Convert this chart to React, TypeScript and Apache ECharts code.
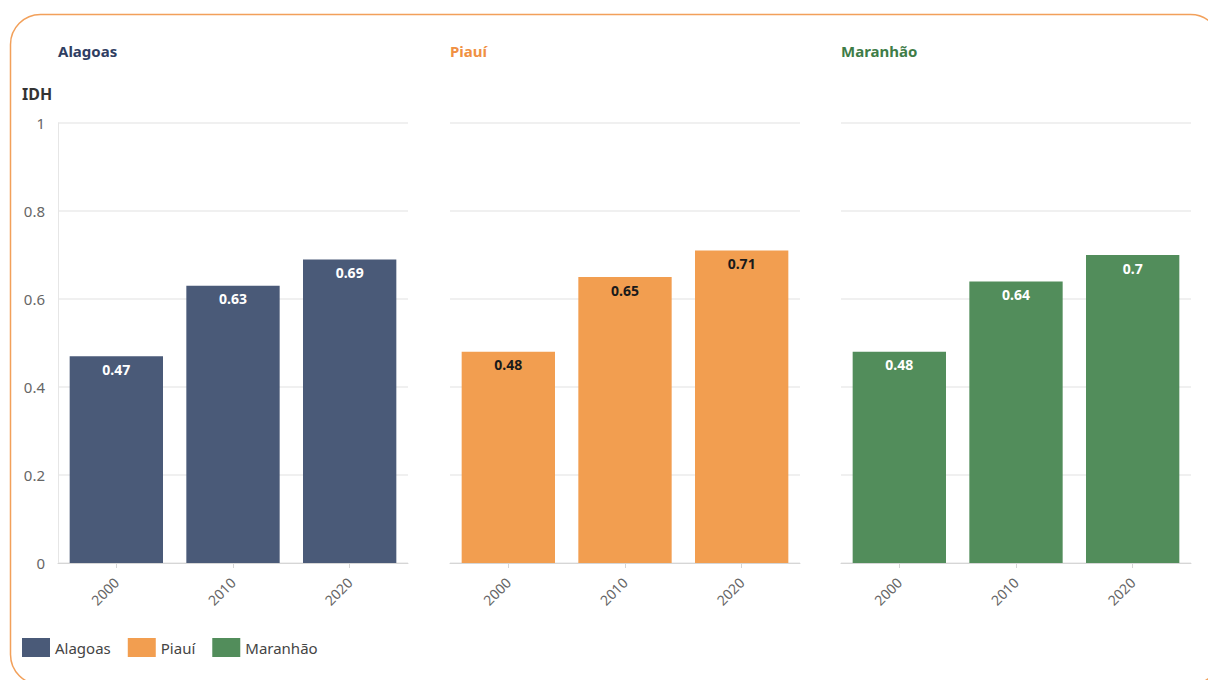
import React, { useEffect, useRef } from "react";
import * as echarts from "echarts";

const years = ["2000", "2010", "2020"];
const states = ["Alagoas", "Piauí", "Maranhão"];
const alagoas = [0.47, 0.63, 0.69];
const piaui = [0.48, 0.65, 0.71];
const maranhao = [0.48, 0.64, 0.7];
const barColors = ["#4a5a78", "#f29e50", "#528d5b"];
const titleColors = ["#2f3e62", "#f09042", "#3e7c47"];
const labelColors = ["#ffffff", "#1a1a1a", "#ffffff"];
const yTicks = [0, 0.2, 0.4, 0.6, 0.8, 1];

const FONT = "'Noto Sans', sans-serif";

export default function App() {
  const ref = useRef<HTMLDivElement>(null);
  useEffect(() => {
    if (!ref.current) return;
    const chart = echarts.init(ref.current, undefined, { renderer: "svg" });
    const lefts = [58, 450, 841];
    const width = 350;
    const values = [alagoas, piaui, maranhao];
    const option: any = {
      animation: false,
      backgroundColor: "#ffffff",
      textStyle: { fontFamily: FONT },
      graphic: [
        {
          type: "rect",
          shape: { x: 10.5, y: 14.5, width: 1210, height: 670, r: 30 },
          style: { fill: "none", stroke: "#f2a05a", lineWidth: 1.5 },
          silent: true,
        },
        {
          type: "text",
          left: 22,
          top: 86,
          style: { text: "IDH", font: `bold 16px ${FONT}`, fill: "#333333" },
        },
        ...states.map((s, i) => ({
          type: "text",
          left: lefts[i],
          top: 43,
          style: { text: s, font: `bold 15px ${FONT}`, fill: titleColors[i] },
        })),
      ],
      legend: {
        left: 22,
        top: 638,
        padding: 0,
        itemWidth: 28,
        itemHeight: 19,
        itemGap: 17,
        icon: "rect",
        data: states,
        textStyle: { fontSize: 15, color: "#444444", fontFamily: FONT },
      },
      grid: lefts.map((l) => ({ left: l, top: 123, width, height: 440 })),
      xAxis: lefts.map((_, i) => ({
        type: "category",
        gridIndex: i,
        data: years,
        axisLine: { show: true, lineStyle: { color: "#d6d6d6" } },
        axisTick: { show: true, alignWithLabel: true, length: 5, lineStyle: { color: "#d6d6d6" } },
        axisLabel: { rotate: 45, color: "#666666", fontSize: 14, margin: 17, fontFamily: FONT },
      })),
      yAxis: lefts.map((_, i) => ({
        type: "value",
        gridIndex: i,
        min: yTicks[0],
        max: yTicks[yTicks.length - 1],
        interval: 0.2,
        axisLine: { show: i === 0, lineStyle: { color: "#e6e6e6" } },
        axisTick: { show: false },
        axisLabel: { show: i === 0, color: "#666666", fontSize: 15, margin: 13, fontFamily: FONT },
        splitLine: { show: true, lineStyle: { color: "#ebebeb", width: 1.5 } },
      })),
      series: states.map((s, i) => ({
        name: s,
        type: "bar",
        xAxisIndex: i,
        yAxisIndex: i,
        data: values[i],
        barWidth: "80%",
        itemStyle: { color: barColors[i] },
        label: {
          show: true,
          position: "insideTop",
          distance: 6,
          color: labelColors[i],
          fontWeight: "bold",
          fontSize: 14,
          fontFamily: FONT,
        },
      })),
    };
    chart.setOption(option);
    return () => chart.dispose();
  }, []);
  return (
    <div
      ref={ref}
      style={{ position: "fixed", left: 0, top: 0, width: 1208, height: 680 }}
    />
  );
}
